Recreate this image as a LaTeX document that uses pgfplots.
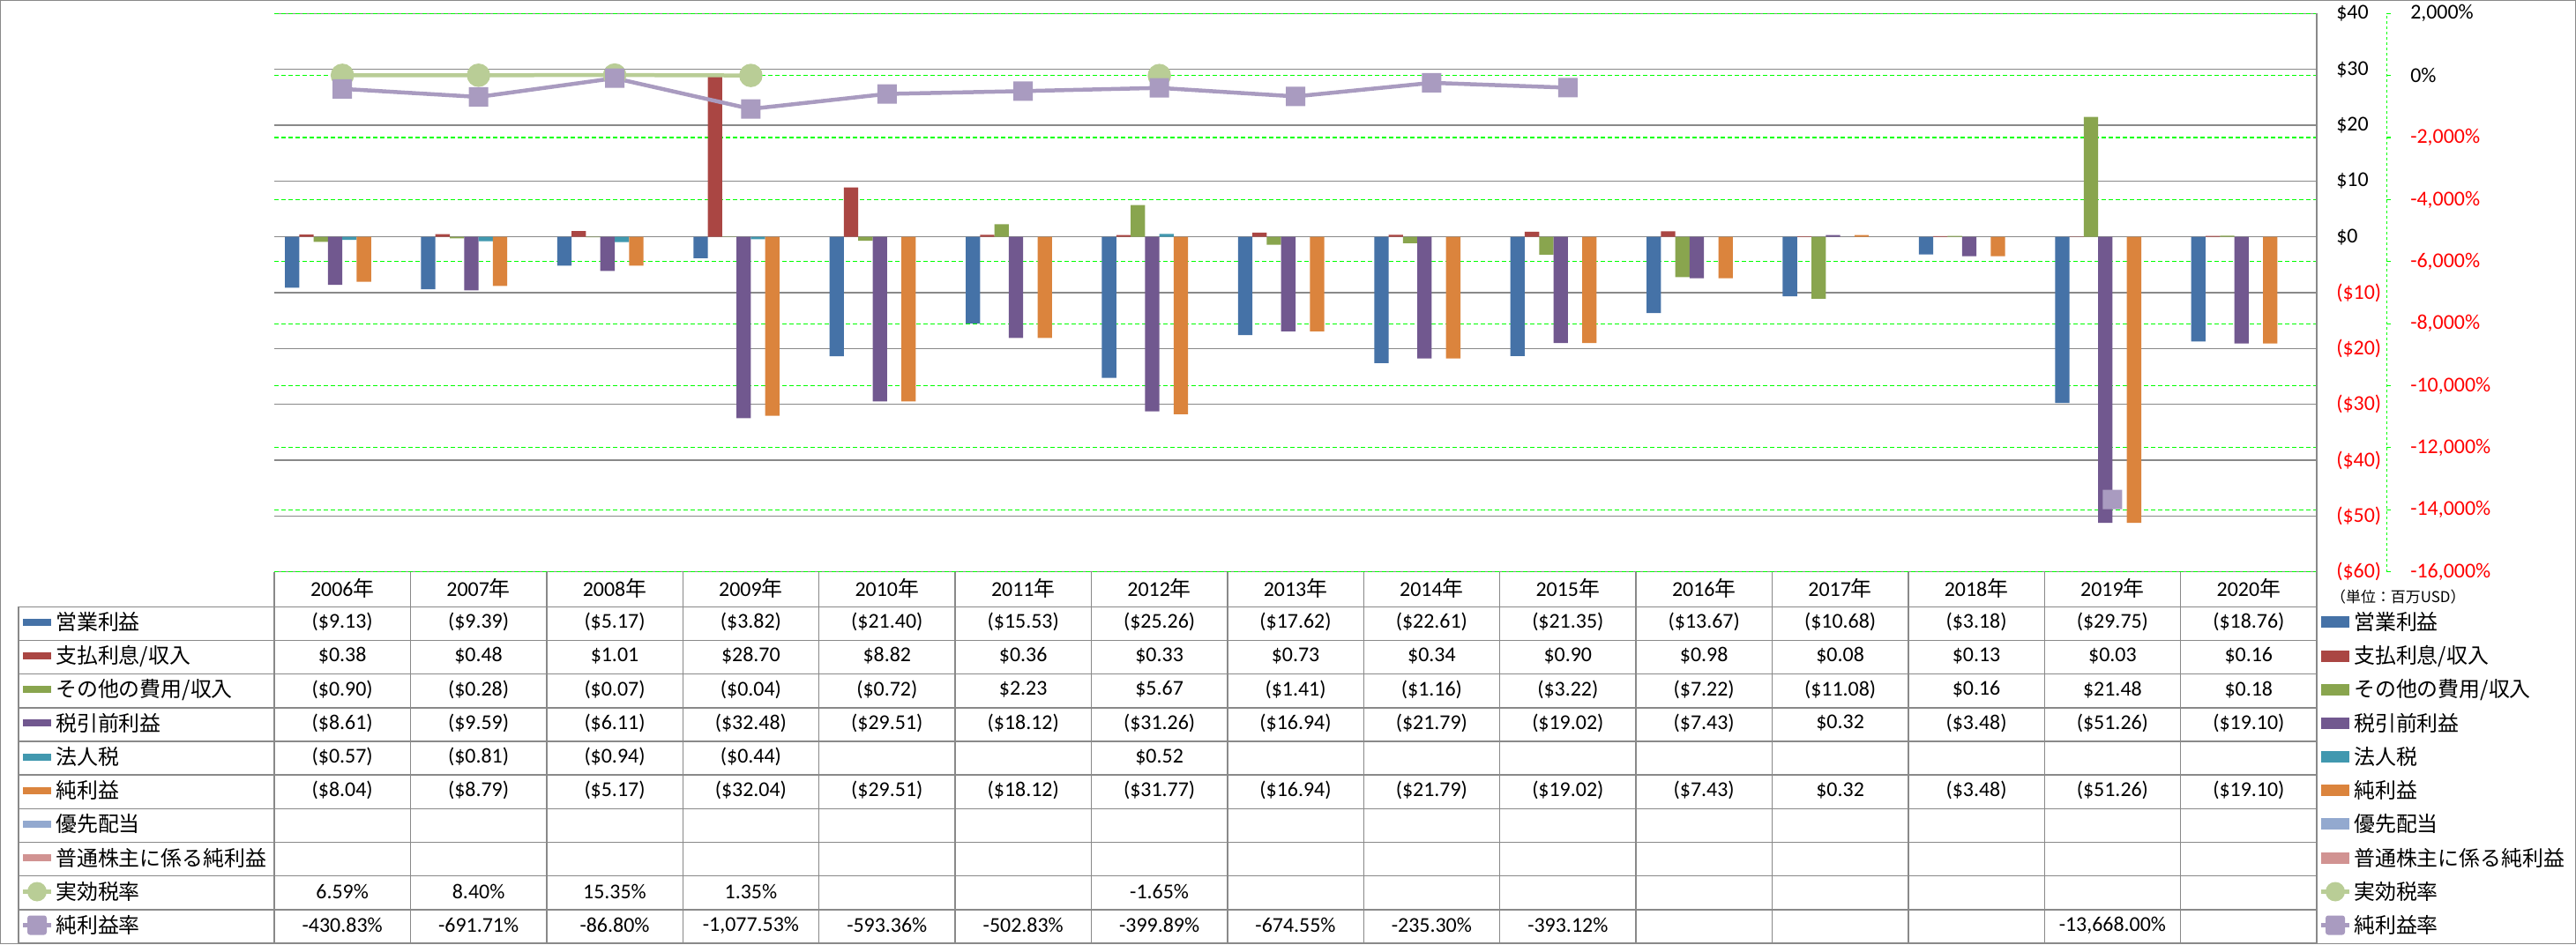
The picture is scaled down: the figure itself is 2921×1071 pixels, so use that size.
\documentclass[border=0pt]{standalone}
\usepackage{fontspec}
\setmainfont{Carlito}
\newfontfamily\jp{Noto Sans CJK JP}
\usepackage{pgfplots}
\usepackage{pgfplotstable}
\pgfplotsset{compat=1.18}

\definecolor{cA}{HTML}{4572A7}
\definecolor{cB}{HTML}{AA4643}
\definecolor{cC}{HTML}{89A54E}
\definecolor{cD}{HTML}{71588F}
\definecolor{cE}{HTML}{4198AF}
\definecolor{cF}{HTML}{DB843D}
\definecolor{cG}{HTML}{93A9CF}
\definecolor{cH}{HTML}{D19392}
\definecolor{cI}{HTML}{B9CD96}
\definecolor{cJ}{HTML}{A99BC0}
\definecolor{grd}{HTML}{898989}
\definecolor{ngreen}{HTML}{00FF00}

\newcommand\tf{\fontsize{24}{26}\selectfont}

% rounded square marker
\pgfdeclareplotmark{rsquare}{%
  \pgfsetcornersarced{\pgfpoint{3bp}{3bp}}%
  \pgfpathmoveto{\pgfpoint{0pt}{-\pgfplotmarksize}}%
  \pgfpathlineto{\pgfpoint{\pgfplotmarksize}{-\pgfplotmarksize}}%
  \pgfpathlineto{\pgfpoint{\pgfplotmarksize}{\pgfplotmarksize}}%
  \pgfpathlineto{\pgfpoint{-\pgfplotmarksize}{\pgfplotmarksize}}%
  \pgfpathlineto{\pgfpoint{-\pgfplotmarksize}{-\pgfplotmarksize}}%
  \pgfpathclose
  \pgfusepathqfill}

% millions USD
\pgfplotstableread{
x op int oth pre tax net
0 -9.13 0.38 -0.90 -8.61 -0.57 -8.04
1 -9.39 0.48 -0.28 -9.59 -0.81 -8.79
2 -5.17 1.01 -0.07 -6.11 -0.94 -5.17
3 -3.82 28.70 -0.04 -32.48 -0.44 -32.04
4 -21.40 8.82 -0.72 -29.51 nan -29.51
5 -15.53 0.36 2.23 -18.12 nan -18.12
6 -25.26 0.33 5.67 -31.26 0.52 -31.77
7 -17.62 0.73 -1.41 -16.94 nan -16.94
8 -22.61 0.34 -1.16 -21.79 nan -21.79
9 -21.35 0.90 -3.22 -19.02 nan -19.02
10 -13.67 0.98 -7.22 -7.43 nan -7.43
11 -10.68 0.08 -11.08 0.32 nan 0.32
12 -3.18 0.13 0.16 -3.48 nan -3.48
13 -29.75 0.03 21.48 -51.26 nan -51.26
14 -18.76 0.16 0.18 -19.10 nan -19.10
}\bars

% percent
\pgfplotstableread{
x etr npm
0 6.59 -430.83
1 8.40 -691.71
2 15.35 -86.80
3 1.35 -1077.53
4 nan -593.36
5 nan -502.83
6 -1.65 -399.89
7 nan -674.55
8 nan -235.30
9 nan -393.12
10 nan nan
11 nan nan
12 nan nan
13 nan -13668.00
14 nan nan
}\rates

\pgfplotsset{set layers}

\newcommand\trow[2]{%
  \foreach \v [count=\i from 0] in {#2}{%
    \node[font=\tf, inner sep=0pt] at ({311+154.4*(\i+0.5)},#1+1.5) {\v};}}

\newcommand\lgbar[3]{%
  \fill[#2] (26,#1-2.5) rectangle (58,#1+5.5);
  \node[anchor=west, inner sep=0pt, font={\tf\jp}] at (63,#1+1.5) {#3};
  \fill[#2] (2632,#1-5) rectangle (2664,#1+8);
  \node[anchor=west, inner sep=0pt, font={\tf\jp}] at (2669,#1+1.5) {#3};}

\begin{document}
\begin{tikzpicture}[x=1bp, y=1bp]
\path (0,0) rectangle (2921,1071);
\draw[grd, line width=1.5bp] (0.75,0.75) rectangle (2920.25,1070.25);

\begin{axis}[
  at={(311bp,422.4bp)}, anchor=south west,
  scale only axis, width=2316bp, height=633.3bp,
  xmin=-0.5, xmax=14.5, ymin=-60, ymax=40,
  xtick=\empty,
  ytick={-60,-50,...,40},
  yticklabels={\textcolor{red}{(\$60)},\textcolor{red}{(\$50)},\textcolor{red}{(\$40)},
    \textcolor{red}{(\$30)},\textcolor{red}{(\$20)},\textcolor{red}{(\$10)},
    \$0,\$10,\$20,\$30,\$40},
  yticklabel pos=right,
  yticklabel style={anchor=west, inner sep=0pt, xshift=22bp, font=\tf},
  major tick length=0pt,
  axis line style={draw=none},
  ymajorgrids, grid style={color=grd, line width=1.2bp},
  ybar, bar width=0.1055,
]
\addplot[fill=cA, draw=none, bar shift=-0.36925] table[x=x, y=op]{\bars};
\addplot[fill=cB, draw=none, bar shift=-0.26375] table[x=x, y=int]{\bars};
\addplot[fill=cC, draw=none, bar shift=-0.15825] table[x=x, y=oth]{\bars};
\addplot[fill=cD, draw=none, bar shift=-0.05275] table[x=x, y=pre]{\bars};
\addplot[fill=cE, draw=none, bar shift=0.05275] table[x=x, y=tax]{\bars};
\addplot[fill=cF, draw=none, bar shift=0.15825] table[x=x, y=net]{\bars};
\end{axis}

\begin{axis}[
  at={(311bp,422.4bp)}, anchor=south west,
  scale only axis, width=2316bp, height=633.3bp,
  xmin=-0.5, xmax=14.5, ymin=-16000, ymax=2000,
  axis x line=none,
  axis y line=right, axis y line shift=79bp,
  y axis line style={draw=ngreen, dashed, line width=1.1bp, -},
  ytick={-16000,-14000,...,2000},
  scaled y ticks=false,
  yticklabels={{\textcolor{red}{-16,000\%}},{\textcolor{red}{-14,000\%}},
    {\textcolor{red}{-12,000\%}},{\textcolor{red}{-10,000\%}},
    {\textcolor{red}{-8,000\%}},{\textcolor{red}{-6,000\%}},
    {\textcolor{red}{-4,000\%}},{\textcolor{red}{-2,000\%}},{0\%},{2,000\%}},
  yticklabel style={anchor=west, inner sep=0pt, xshift=22bp, font=\tf},
  major tick length=5bp, tick align=outside,
  ytick style={draw=ngreen, line width=1.1bp},
  ymajorgrids, grid style={color=ngreen, dash pattern=on 5bp off 3bp, line width=1.1bp},
  unbounded coords=jump,
]
\addplot[cI, line width=4.5bp, mark=*, mark size=11bp,
  mark options={fill=cI, draw=none}] table[x=x, y=etr]{\rates};
\addplot[cJ, line width=4.5bp, mark=rsquare, mark size=11bp,
  mark options={fill=cJ}] table[x=x, y=npm]{\rates};
\end{axis}

% frame line on the right of the plot and table grid
\draw[grd, line width=1.5bp] (2627,1055.7) -- (2627,1);
\foreach \k in {0,...,15} \draw[grd, line width=1.4bp] ({311+154.4*\k},422.4) -- ({311+154.4*\k},1);
\draw[grd, line width=1.4bp] (21,382.7) -- (21,1);
\foreach \r in {0,...,10} \draw[grd, line width=1.4bp] (21,{382.7-38.17*\r}) -- (2627,{382.7-38.17*\r});

% header
\foreach \y [count=\i from 0] in {2006,...,2020}
  \node[font=\tf, inner sep=0pt] at ({311+154.4*(\i+0.5)},404) {\y{\jp 年}};

\trow{363.6}{{(\$9.13)},{(\$9.39)},{(\$5.17)},{(\$3.82)},{(\$21.40)},{(\$15.53)},{(\$25.26)},{(\$17.62)},{(\$22.61)},{(\$21.35)},{(\$13.67)},{(\$10.68)},{(\$3.18)},{(\$29.75)},{(\$18.76)}}
\trow{325.43}{{\$0.38},{\$0.48},{\$1.01},{\$28.70},{\$8.82},{\$0.36},{\$0.33},{\$0.73},{\$0.34},{\$0.90},{\$0.98},{\$0.08},{\$0.13},{\$0.03},{\$0.16}}
\trow{287.26}{{(\$0.90)},{(\$0.28)},{(\$0.07)},{(\$0.04)},{(\$0.72)},{\$2.23},{\$5.67},{(\$1.41)},{(\$1.16)},{(\$3.22)},{(\$7.22)},{(\$11.08)},{\$0.16},{\$21.48},{\$0.18}}
\trow{249.09}{{(\$8.61)},{(\$9.59)},{(\$6.11)},{(\$32.48)},{(\$29.51)},{(\$18.12)},{(\$31.26)},{(\$16.94)},{(\$21.79)},{(\$19.02)},{(\$7.43)},{\$0.32},{(\$3.48)},{(\$51.26)},{(\$19.10)}}
\trow{210.92}{{(\$0.57)},{(\$0.81)},{(\$0.94)},{(\$0.44)},{},{},{\$0.52},{},{},{},{},{},{},{},{}}
\trow{172.75}{{(\$8.04)},{(\$8.79)},{(\$5.17)},{(\$32.04)},{(\$29.51)},{(\$18.12)},{(\$31.77)},{(\$16.94)},{(\$21.79)},{(\$19.02)},{(\$7.43)},{\$0.32},{(\$3.48)},{(\$51.26)},{(\$19.10)}}
\trow{58.24}{{6.59\%},{8.40\%},{15.35\%},{1.35\%},{},{},{-1.65\%},{},{},{},{},{},{},{},{}}
\trow{20.07}{{-430.83\%},{-691.71\%},{-86.80\%},{-1,077.53\%},{-593.36\%},{-502.83\%},{-399.89\%},{-674.55\%},{-235.30\%},{-393.12\%},{},{},{},{-13,668.00\%},{}}

% row labels and legend
\lgbar{363.6}{cA}{営業利益}
\lgbar{325.43}{cB}{支払利息/収入}
\lgbar{287.26}{cC}{その他の費用/収入}
\lgbar{249.09}{cD}{税引前利益}
\lgbar{210.92}{cE}{法人税}
\lgbar{172.75}{cF}{純利益}
\lgbar{134.58}{cG}{優先配当}
\lgbar{96.41}{cH}{普通株主に係る純利益}
\foreach \xa/\xb in {26/58, 2632/2664} {
  \draw[cI, line width=4.5bp] (\xa,59.5) -- (\xb,59.5);
  \fill[cI] ({(\xa+\xb)/2},59.5) circle (11);
  \draw[cJ, line width=4.5bp] (\xa,21.5) -- (\xb,21.5);
  \fill[cJ, rounded corners=3] ({(\xa+\xb)/2-11},10.5) rectangle ({(\xa+\xb)/2+11},32.5);
}
\node[anchor=west, inner sep=0pt, font={\tf\jp}] at (63,59.7) {実効税率};
\node[anchor=west, inner sep=0pt, font={\tf\jp}] at (2669,59.7) {実効税率};
\node[anchor=west, inner sep=0pt, font={\tf\jp}] at (63,21.5) {純利益率};
\node[anchor=west, inner sep=0pt, font={\tf\jp}] at (2669,21.5) {純利益率};
\node[anchor=west, inner sep=0pt, font={\fontsize{17}{19}\selectfont\jp}] at (2643,394) {（単位：百万USD）};
\end{tikzpicture}
\end{document}
